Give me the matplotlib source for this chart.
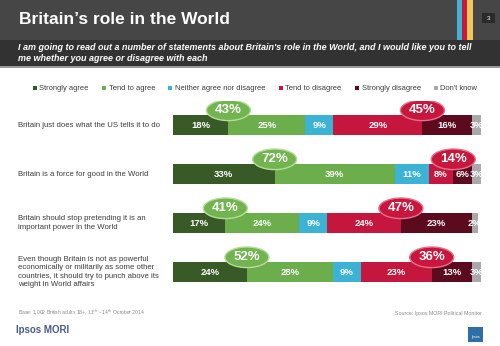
import matplotlib
matplotlib.use("Agg")
import matplotlib.pyplot as plt
import matplotlib.transforms as mtransforms
from matplotlib.patches import Rectangle, Ellipse

W, H = 500, 346

statements = [
    "Britain just does what the US tells it to do",
    "Britain is a force for good in the World",
    "Britain should stop pretending it is an\nimportant power in the World",
    "Even though Britain is not as powerful\neconomically or militarily as some other\ncountries, it should try to punch above its\nweight in World affairs",
]
responses = ["Strongly agree", "Tend to agree", "Neither agree nor disagree",
             "Tend to disagree", "Strongly disagree", "Don't know"]
strongly_agree = [18, 33, 17, 24]
tend_agree = [25, 39, 24, 28]
neither = [9, 11, 9, 9]
tend_disagree = [29, 8, 24, 23]
strongly_disagree = [16, 6, 23, 13]
dont_know = [3, 3, 2, 3]

colors = ["#385a27", "#6cad4c", "#3cb2d4", "#c5173d", "#5c0b1f", "#a9a9a9"]
series = [strongly_agree, tend_agree, neither, tend_disagree, strongly_disagree, dont_know]

plt.rcParams["font.family"] = ["Liberation Sans", "DejaVu Sans"]

fig = plt.figure(figsize=(W / 100, H / 100), dpi=100)


def fx(x):
    return x / W


def fy(y):
    return 1 - y / H


def frect(x0, y0, x1, y1, color, z=0):
    fig.patches.append(Rectangle((fx(x0), fy(y1)), fx(x1) - fx(x0), fy(y0) - fy(y1),
                                 transform=fig.transFigure, facecolor=color,
                                 edgecolor="none", zorder=z))


# header bands
frect(0, 0, 500, 40, "#464646")
frect(0, 40, 500, 66, "#323232")
frect(0, 66, 500, 67.5, "#9a9a9a")
# coloured stripes
frect(457, 0, 462, 40, "#3fb4d6")
frect(462, 0, 467, 40, "#c8193d")
frect(467, 0, 473, 40, "#f0c85a")
# page number
frect(482, 13, 495, 23, "#2a2a2a")
fig.text(fx(488.5), fy(18), "3", color="white", fontsize=4.5, ha="center", va="center")

fig.text(fx(19), fy(20), "Britain\u2019s role in the World", color="white",
         fontsize=12.5, fontweight="bold", ha="left", va="center")
fig.text(fx(18), fy(53), "I am going to read out a number of statements about Britain's role in the World, and I would like you to tell\nme whether you agree or disagree with each",
         color="white", fontsize=6.5, fontstyle="italic", fontweight="bold",
         ha="left", va="center", linespacing=1.15)

# main bar axes
ax = fig.add_axes([fx(173), fy(297), fx(481) - fx(173), fy(101) - fy(297)])
ax.set_xlim(0, 100)
ax.set_ylim(3.51, -0.49)
ax.axis("off")

rows = list(range(len(statements)))
bar_h = 0.39
left = [0] * len(rows)
containers = []
for vals, col, name in zip(series, colors, responses):
    bc = ax.barh(rows, vals, left=left, height=bar_h, color=col, label=name)
    containers.append(bc)
    for r, v, l in zip(rows, vals, left):
        ax.text(l + v / 2, r, f"{v}%", color="white", fontsize=6.8,
                fontweight="bold", ha="center", va="center")
    left = [a + b for a, b in zip(left, vals)]

# net agree / disagree bubbles
ell_w = 44 / 3.08
ell_h = 0.42
for r in rows:
    agree = strongly_agree[r] + tend_agree[r]
    disagree = tend_disagree[r] + strongly_disagree[r]
    xa = strongly_agree[r]
    xd = strongly_agree[r] + tend_agree[r] + neither[r] + tend_disagree[r]
    for xc, val, fc, ec in [(xa, agree, "#72b450", "#b5dc98"),
                            (xd, disagree, "#c8163c", "#e8708a")]:
        ax.add_patch(Ellipse((xc, r - 0.30), ell_w, ell_h, facecolor=fc,
                             edgecolor=ec, linewidth=1.0, zorder=5))
        ax.text(xc, r - 0.30, f"{val}%", color="white", fontsize=9.5,
                fontweight="bold", ha="center", va="center", zorder=6)

# statement labels
label_tr = mtransforms.blended_transform_factory(fig.transFigure, ax.transData)
for r, s in zip(rows, statements):
    ax.text(fx(18), r, s, transform=label_tr, color="#3a3a3a",
            fontsize=5.6, ha="left", va="center", linespacing=1.25)

# legend
fig.legend(handles=containers, labels=responses, loc="center",
           bbox_to_anchor=(fx(255), fy(89)), ncol=6, frameon=False,
           fontsize=5.4, handlelength=0.55, handleheight=0.55, handletextpad=0.35,
           columnspacing=1.75, labelcolor="#3a3a3a", borderaxespad=0, borderpad=0)

# footer
frect(18, 302.5, 483, 303.3, "#d0d0d0")
frect(18, 320.5, 483, 321.3, "#d0d0d0")
fig.text(fx(18), fy(312), "Base: 1,002 British adults 18+, 11$^{th}$ \u2013 14$^{th}$ October 2014",
         color="#8a8a8a", fontsize=3.6, ha="left", va="center")
fig.text(fx(482), fy(314), "Source: Ipsos MORI Political Monitor", color="#8a8a8a",
         fontsize=3.8, ha="right", va="center")
fig.text(fx(16), fy(330), "Ipsos MORI", color="#4a5a8c", fontsize=7,
         fontweight="bold", ha="left", va="center")
frect(468, 327, 483, 342, "#2f6fa8")
fig.text(fx(475.5), fy(337), "Ipsos", color="white", fontsize=2.6, ha="center", va="center")

fig.savefig("out.png", dpi=100)
